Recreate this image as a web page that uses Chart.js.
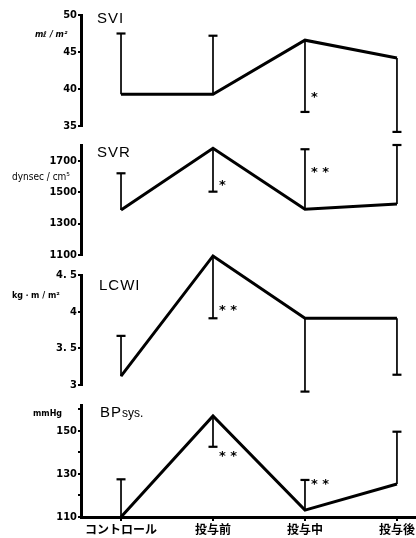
<!DOCTYPE html>
<html>
<head>
<meta charset="utf-8">
<script src="https://cdn.jsdelivr.net/npm/chart.js@4.4.1/dist/chart.umd.min.js"></script>
<style>
  html, body { margin: 0; padding: 0; background: #fff; }
  #wrap { position: relative; width: 416px; height: 538px; overflow: hidden; }
  #wrap canvas { position: absolute; left: 0; top: 0; }
</style>
</head>
<body>
<div id="wrap">
  <canvas id="svi" width="416" height="538"></canvas>
  <canvas id="svr" width="416" height="538"></canvas>
  <canvas id="lcwi" width="416" height="538"></canvas>
  <canvas id="bp" width="416" height="538"></canvas>
</div>
<script>
const categories = ['コントロール', '投与前', '投与中', '投与後'];

// SVI (ml/m2)
const sviMean = [39.3, 39.3, 46.6, 44.2];
const sviErr = [47.5, 47.2, 36.9, 34.2];
const sviTicks = [35, 40, 45, 50];
const sviLabels = ['35', '40', '45', '50'];

// SVR (dyn sec/cm5)
const svrMean = [1386, 1779, 1391, 1424];
const svrErr = [1620, 1503, 1773, 1800];
const svrTicks = [1100, 1300, 1500, 1700];
const svrLabels = ['1100', '1300', '1500', '1700'];

// LCWI (kg m/m2)
const lcwiMean = [3.12, 4.76, 3.91, 3.91];
const lcwiErr = [3.67, 3.91, 2.91, 3.14];
const lcwiTicks = [3, 3.5, 4, 4.5];
const lcwiLabels = ['3', '3. 5', '4', '4. 5'];

// BPsys (mmHg)
const bpMean = [110, 156.9, 113.2, 125.3];
const bpErr = [127.5, 142.6, 127.2, 149.6];
const bpTicks = [110, 120, 130, 140, 150, 160];
const bpLabels = ['110', '', '130', '', '150', ''];

// significance marks: [category index, value, text]
const sviStars = [[2, 39.2, '*']];
const svrStars = [[1, 1560, '*'], [2, 1646, '* *']];
const lcwiStars = [[1, 4.06, '* *']];
const bpStars = [[1, 139.2, '* *'], [2, 126.4, '* *']];

const X_MIN = -0.435, X_MAX = 3.207;
const tickFont = { family: '"DejaVu Sans Condensed"', weight: 'bold', size: 11 };

// one-sided SD bars, asterisks and the panel / unit labels
const panelDecor = {
  id: 'panelDecor',
  afterDatasetsDraw(chart, args, o) {
    const { ctx } = chart;
    const x = chart.scales.x, y = chart.scales.y;
    ctx.save();
    ctx.strokeStyle = '#000';
    ctx.fillStyle = '#000';
    o.mean.forEach((m, i) => {
      const px = x.getPixelForValue(i);
      const y0 = y.getPixelForValue(m);
      const y1 = y.getPixelForValue(o.err[i]);
      ctx.lineWidth = 1.7;
      ctx.beginPath(); ctx.moveTo(px, y0); ctx.lineTo(px, y1); ctx.stroke();
      ctx.lineWidth = 2.2;
      ctx.beginPath(); ctx.moveTo(px - 4.5, y1); ctx.lineTo(px + 4.5, y1); ctx.stroke();
    });

    ctx.font = 'bold 13px "DejaVu Sans"';
    ctx.textAlign = 'left';
    ctx.textBaseline = 'middle';
    o.stars.forEach(([i, v, t]) => {
      ctx.fillText(t, x.getPixelForValue(i) + 6, y.getPixelForValue(v) + 3);
    });

    ctx.textBaseline = 'alphabetic';
    ctx.font = '500 15px "Liberation Sans"';
    ctx.letterSpacing = '1px';
    ctx.fillText(o.title, o.titleAt[0], o.titleAt[1]);
    if (o.sub) {
      const w = ctx.measureText(o.title).width;
      ctx.font = '12px "Liberation Sans"';
      ctx.letterSpacing = '0px';
      ctx.fillText(o.sub, o.titleAt[0] + w, o.titleAt[1]);
    }
    ctx.letterSpacing = '0px';
    ctx.font = o.unitFont;
    ctx.fillText(o.unit, o.unitAt[0], o.unitAt[1]);
    ctx.restore();
  }
};

function yAxis(min, max, ticks, labels) {
  return {
    min: min,
    max: max,
    afterFit(s) { s.width = 81; },
    afterBuildTicks(s) { s.ticks = ticks.map(v => ({ value: v })); },
    border: { display: true, color: '#000', width: 3 },
    grid: { drawOnChartArea: false, drawTicks: true, tickLength: 3, lineWidth: 2, color: '#000' },
    ticks: { autoSkip: false, padding: 1, color: '#000', font: tickFont, callback: (v, i) => labels[i] }
  };
}

const hiddenX = { type: 'linear', min: X_MIN, max: X_MAX, display: false };

const bottomX = {
  type: 'linear',
  min: X_MIN,
  max: X_MAX,
  afterBuildTicks(s) { s.ticks = categories.map((c, i) => ({ value: i })); },
  afterFit(s) { s.height = 21; },
  border: { display: true, color: '#000', width: 3 },
  grid: { drawOnChartArea: false, drawTicks: true, tickLength: 4, lineWidth: 2, color: '#000' },
  ticks: {
    autoSkip: false, maxRotation: 0, padding: 1, color: '#000',
    font: { family: '"Noto Sans CJK JP"', weight: 'bold', size: 12 },
    callback: (v, i) => categories[i]
  }
};

function makePanel(id, mean, err, stars, scales, pad, decor) {
  return new Chart(document.getElementById(id), {
    type: 'line',
    data: {
      datasets: [{
        data: mean.map((v, i) => ({ x: i, y: v })),
        borderColor: '#000',
        borderWidth: 3,
        borderJoinStyle: 'miter',
        pointRadius: 0,
        tension: 0,
        clip: false
      }]
    },
    options: {
      responsive: false,
      animation: false,
      devicePixelRatio: 1,
      layout: { padding: pad },
      scales: scales,
      plugins: {
        legend: { display: false },
        tooltip: { enabled: false },
        panelDecor: Object.assign({ mean: mean, err: err, stars: stars }, decor)
      }
    },
    plugins: [panelDecor]
  });
}

makePanel('svi', sviMean, sviErr, sviStars,
  { x: hiddenX, y: yAxis(35, 50, sviTicks, sviLabels) },
  { top: 15, bottom: 412, left: 0, right: 0 },
  { title: 'SVI', titleAt: [97, 23], unit: 'mℓ / m²', unitAt: [35, 37], unitFont: 'bold italic 8px "DejaVu Sans"' });

makePanel('svr', svrMean, svrErr, svrStars,
  { x: hiddenX, y: yAxis(1100, 1800, svrTicks, svrLabels) },
  { top: 145, bottom: 283, left: 0, right: 0 },
  { title: 'SVR', titleAt: [97, 157], unit: 'dynsec / cm⁵', unitAt: [12, 180], unitFont: '10px "DejaVu Sans Condensed"' });

makePanel('lcwi', lcwiMean, lcwiErr, lcwiStars,
  { x: hiddenX, y: yAxis(3, 4.5, lcwiTicks, lcwiLabels) },
  { top: 275, bottom: 153, left: 0, right: 0 },
  { title: 'LCWI', titleAt: [99, 290], unit: 'kg・m / m²', unitAt: [12, 298], unitFont: 'bold 8px "DejaVu Sans"' });

makePanel('bp', bpMean, bpErr, bpStars,
  { x: bottomX, y: yAxis(110, 162, bpTicks, bpLabels) },
  { top: 405, bottom: 0, left: 0, right: 0 },
  { title: 'BP', sub: 'sys.', titleAt: [100, 417], unit: 'mmHg', unitAt: [33, 416], unitFont: 'bold 8px "DejaVu Sans"' });
</script>
</body>
</html>
